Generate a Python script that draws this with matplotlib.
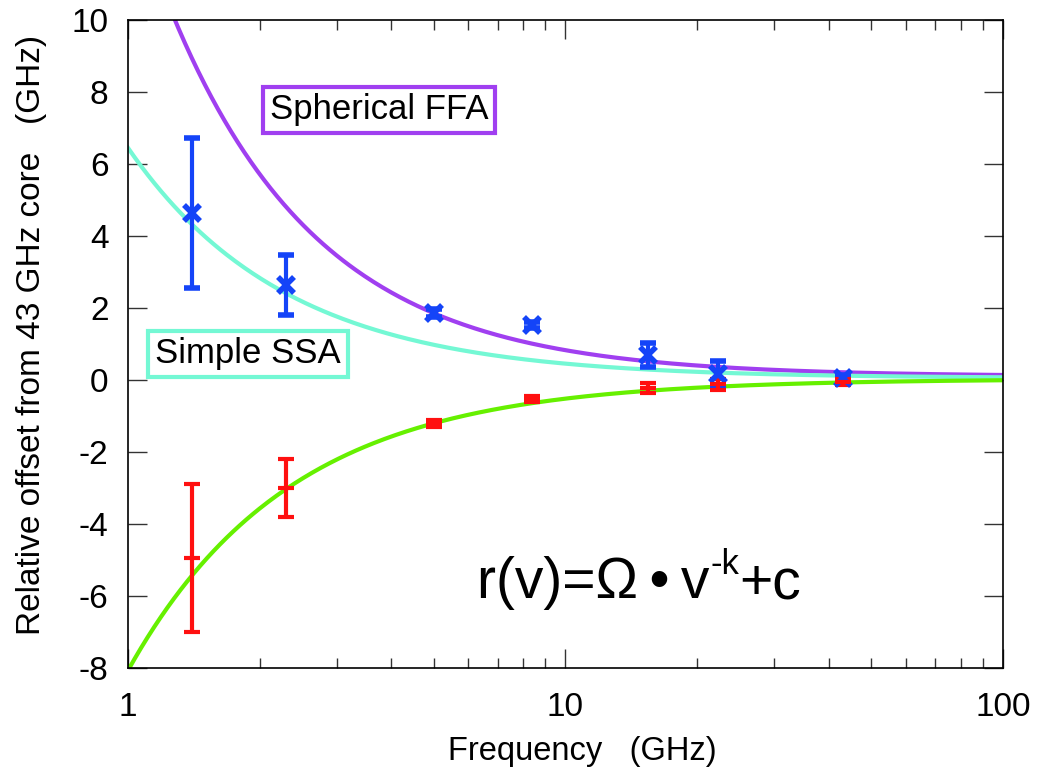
"""
Relative core offset vs frequency, r(v) = Omega * v^-k + c
"""
import numpy as np
import matplotlib.pyplot as plt
from matplotlib.ticker import FixedLocator, NullFormatter, LogLocator

plt.rcParams['font.family'] = ['Liberation Sans', 'DejaVu Sans']
plt.rcParams['axes.unicode_minus'] = False

# --- data ---
freq = [1.4, 2.3, 5.0, 8.4, 15.4, 22.3, 43.0]

blue_off = [4.64, 2.64, 1.86, 1.53, 0.69, 0.17, 0.05]
blue_err = [2.08, 0.83, 0.12, 0.08, 0.33, 0.36, 0.10]

red_off = [-4.94, -3.00, -1.20, -0.53, -0.22, -0.12, -0.05]
red_err = [2.05, 0.80, 0.10, 0.08, 0.15, 0.15, 0.08]

# fit parameters (Omega, k, c)
ffa_fit = (13.55, 1.27, 0.10)
ssa_fit = (6.40, 1.20, 0.05)
neg_fit = (-8.10, 1.17, 0.03)

PURPLE = '#a03ff0'
AQUA = '#74f8d4'
GREEN = '#66f000'
BLUE = '#1444f8'
RED = '#ff1010'


def model(v, p):
    om, k, c = p
    return om * v ** (-k) + c


fig = plt.figure(figsize=(10.42, 7.78), dpi=100)
ax = fig.add_axes([0.1228, 0.1414, 0.8398, 0.8329])

v = np.logspace(0, 2, 400)
ax.plot(v, model(v, ffa_fit), color=PURPLE, lw=3, zorder=2)
ax.plot(v, model(v, ssa_fit), color=AQUA, lw=3, zorder=2)
ax.plot(v, model(v, neg_fit), color=GREEN, lw=3, zorder=2)

ax.errorbar(freq, blue_off, yerr=blue_err, fmt='x', color=BLUE, ms=12, mew=4,
            elinewidth=3, capsize=5.5, capthick=3, zorder=3)
ax.errorbar(freq, red_off, yerr=red_err, fmt='_', color=RED, ms=11, mew=3,
            elinewidth=3, capsize=5.5, capthick=3, zorder=3)

ax.set_xscale('log')
ax.set_xlim(1, 100)
ax.set_ylim(-8, 10)
ax.set_yticks(range(-8, 11, 2))
ax.xaxis.set_major_locator(FixedLocator([1, 10, 100]))
ax.set_xticklabels(['1', '10', '100'])
ax.xaxis.set_minor_locator(LogLocator(base=10, subs=np.arange(2, 10)))
ax.xaxis.set_minor_formatter(NullFormatter())

ax.tick_params(which='both', direction='in', top=True, right=True,
               color='#333333', width=1)
ax.tick_params(which='major', length=14, labelsize=24)
ax.tick_params(axis='y', which='major', pad=14)
ax.tick_params(axis='x', which='major', pad=17)
ax.tick_params(which='minor', length=7)
for s in ax.spines.values():
    s.set_linewidth(1.2)

ax.set_xlabel('Frequency   (GHz)', fontsize=23.5)
ax.set_ylabel('Relative offset from 43 GHz core   (GHz)', fontsize=24)
ax.xaxis.set_label_coords(0.519, -0.105)
ax.yaxis.set_label_coords(-0.092, 0.514)

# label boxes, placed in pixel coordinates measured from the top-left corner
ax.text(270, 778 - 110, 'Spherical FFA', transform=None, fontsize=25,
        va='center', ha='left',
        bbox=dict(boxstyle='square,pad=0.2', fc='white', ec=PURPLE, lw=3))
ax.text(155, 778 - 354, 'Simple SSA', transform=None, fontsize=25,
        va='center', ha='left',
        bbox=dict(boxstyle='square,pad=0.2', fc='white', ec=AQUA, lw=3))

# formula r(v)=Ω•v^-k+c built from pieces so the superscript keeps a plain hyphen
y0 = 0.108
t1 = ax.text(0.399, y0, 'r(v)=Ω\u2009•\u2009v', transform=ax.transAxes,
             fontsize=41, ha='left', va='baseline')
t2 = ax.annotate('-k', xy=(1, y0), xycoords=(t1, ax.transAxes),
                 xytext=(0.5, 17), textcoords='offset points',
                 fontsize=25, ha='left', va='baseline')
ax.annotate('+c', xy=(1, y0), xycoords=(t2, ax.transAxes),
            xytext=(0, 0), textcoords='offset points',
            fontsize=41, ha='left', va='baseline')

fig.savefig('out.png', dpi=100)
